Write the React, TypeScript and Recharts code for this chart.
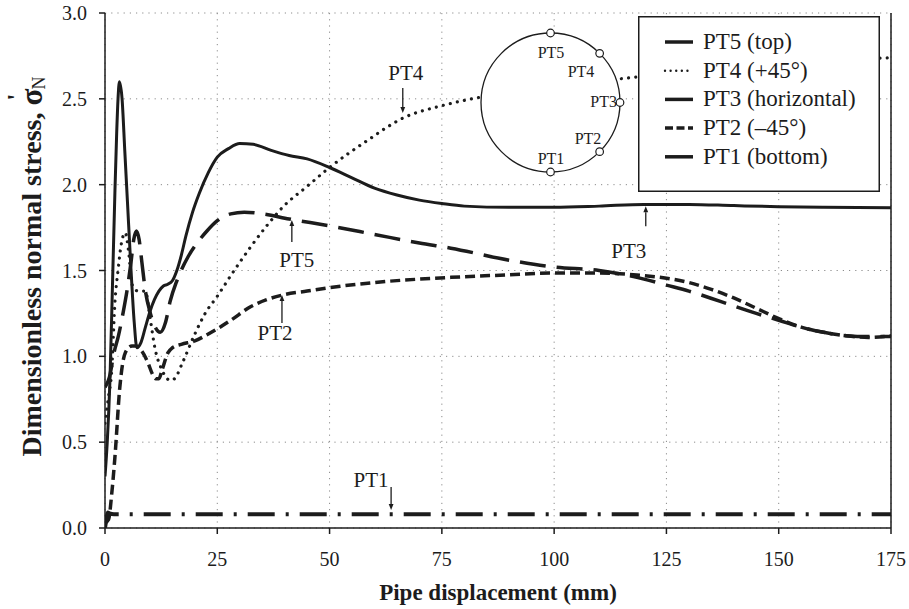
import React from "react";
import {
  LineChart,
  Line,
  XAxis,
  YAxis,
  CartesianGrid,
  ReferenceLine,
  ReferenceDot,
  Legend,
} from "recharts";

const FONT = '"Liberation Serif", "Times New Roman", Times, serif';
const INK = "#1c1c1c";

// axis ticks
const xTicks = [0, 25, 50, 75, 100, 125, 150, 175];
const yTicks = [0, 0.5, 1, 1.5, 2, 2.5, 3];

// PT5 (top)
const pt5X = [0, 1, 2, 3, 4, 5, 5.8, 6.4, 7, 7.6, 8.2, 9, 10, 11, 12.3, 13.5, 14.5, 16, 18.5, 20.5, 22.7, 25, 28, 31, 35, 41, 50, 60, 70, 77, 90, 100, 110, 120, 125, 130, 137, 145, 150, 155, 160, 165, 170, 175];
const pt5Y = [0.82, 0.88, 1.02, 1.12, 1.25, 1.4, 1.55, 1.68, 1.73, 1.68, 1.55, 1.38, 1.26, 1.18, 1.14, 1.2, 1.32, 1.44, 1.58, 1.66, 1.73, 1.79, 1.83, 1.84, 1.83, 1.8, 1.76, 1.71, 1.66, 1.63, 1.56, 1.52, 1.5, 1.45, 1.415, 1.38, 1.32, 1.25, 1.21, 1.17, 1.14, 1.12, 1.115, 1.115];

// PT4 (+45°)
const pt4X = [0, 0.7, 1.5, 2.2, 2.9, 3.6, 4.5, 5.3, 6, 7.4, 9, 10, 11.1, 12.7, 14.5, 15.5, 17.2, 20, 22.3, 25, 28, 32.5, 36, 39.6, 45, 50, 58, 66.5, 75, 83.6, 95, 105, 116, 130, 145, 160, 175];
const pt4Y = [0.61, 0.75, 0.92, 1.31, 1.5, 1.65, 1.72, 1.6, 1.42, 1.38, 1.38, 1.23, 1.05, 0.92, 0.86, 0.87, 0.96, 1.13, 1.25, 1.35, 1.47, 1.64, 1.76, 1.87, 1.99, 2.1, 2.25, 2.39, 2.46, 2.51, 2.56, 2.59, 2.62, 2.66, 2.7, 2.72, 2.74];

// PT3 (horizontal)
const pt3X = [0, 0.5, 1.1, 1.7, 2.2, 2.6, 2.9, 3.2, 3.8, 4.4, 5, 5.8, 6.5, 7.1, 8, 9, 10, 11, 12, 13, 14, 15, 16, 17, 18, 19.5, 21, 23, 25, 27.5, 30, 33, 37, 41, 45, 50, 55, 60, 65, 70, 75, 80, 90, 100, 110, 120, 130, 140, 150, 160, 175];
const pt3Y = [0.3, 0.5, 0.86, 1.45, 1.95, 2.3, 2.5, 2.6, 2.5, 2.2, 1.9, 1.5, 1.2, 1.05, 1.08, 1.17, 1.26, 1.33, 1.38, 1.41, 1.42, 1.44, 1.5, 1.59, 1.7, 1.84, 1.95, 2.07, 2.16, 2.21, 2.24, 2.235, 2.2, 2.17, 2.15, 2.1, 2.04, 1.98, 1.94, 1.91, 1.89, 1.875, 1.868, 1.868, 1.875, 1.885, 1.885, 1.878, 1.872, 1.868, 1.866];

// PT2 (-45°)
const pt2X = [0, 0.8, 1.5, 2.2, 3.3, 4.5, 6, 7, 8.2, 9.6, 10.5, 11.3, 12, 12.7, 14, 15, 17, 20, 23, 25, 28, 32.5, 36, 40, 45, 50, 60, 77, 90, 99, 110, 120, 125, 130, 135, 140, 145, 150, 155, 160, 165, 170, 175];
const pt2Y = [0.03, 0.05, 0.2, 0.41, 0.82, 1.02, 1.06, 1.06, 1.03, 0.96, 0.9, 0.87, 0.87, 0.92, 1.02, 1.05, 1.07, 1.09, 1.13, 1.16, 1.21, 1.29, 1.33, 1.36, 1.38, 1.4, 1.43, 1.46, 1.475, 1.485, 1.485, 1.47, 1.455, 1.43, 1.39, 1.34, 1.28, 1.22, 1.17, 1.14, 1.12, 1.11, 1.12];

// PT1 (bottom)
const pt1X = [0, 0.3, 0.6, 1, 2, 175];
const pt1Y = [0, 0.05, 0.09, 0.085, 0.08, 0.08];

// callout arrows: label and the point the arrow tip touches
const calloutLabels = ["PT4", "PT5", "PT2", "PT3", "PT1"];
const calloutX = [66.3, 41.6, 39.4, 120.4, 63.7];
const calloutY = [2.417, 1.794, 1.357, 1.875, 0.105];

const toPoints = (xs: number[], ys: number[]) => xs.map((x, i) => ({ x, y: ys[i] }));

const series = [
  { name: "PT5 (top)", data: toPoints(pt5X, pt5Y), width: 3.5, dash: "26 11", cap: "butt", legendDash: undefined },
  { name: "PT4 (+45°)", data: toPoints(pt4X, pt4Y), width: 3.2, dash: "0.01 7.2", cap: "round", legendDash: "0.01 5.6" },
  { name: "PT3 (horizontal)", data: toPoints(pt3X, pt3Y), width: 3, dash: undefined, cap: "butt", legendDash: undefined },
  { name: "PT2 (–45°)", data: toPoints(pt2X, pt2Y), width: 3.5, dash: "10 5", cap: "butt", legendDash: "8 3.5" },
  { name: "PT1 (bottom)", data: toPoints(pt1X, pt1Y), width: 4, dash: "27 11 3 11", cap: "butt", legendDash: undefined },
];

// arrow direction, arrow length and label offset (px) per callout
const calloutLayout: Record<string, { dir: "up" | "down"; len: number; tx: number; ty: number }> = {
  PT4: { dir: "down", len: 25, tx: 3, ty: -33 },
  PT5: { dir: "up", len: 22, tx: 5, ty: 47 },
  PT2: { dir: "up", len: 28, tx: -7, ty: 45 },
  PT3: { dir: "up", len: 20, tx: -17, ty: 52 },
  PT1: { dir: "down", len: 23, tx: -20, ty: -23 },
};

function calloutShape(label: string) {
  const { dir, len, tx, ty } = calloutLayout[label];
  return (props: any) => {
    const { cx, cy } = props;
    const s = dir === "down" ? -1 : 1;
    const head = 6;
    return (
      <g>
        <line x1={cx} y1={cy + s * len} x2={cx} y2={cy + s * head} stroke={INK} strokeWidth={1.3} />
        <path d={`M${cx},${cy} L${cx - 2.4},${cy + s * head} L${cx + 2.4},${cy + s * head} Z`} fill={INK} />
        <text x={cx + tx} y={cy + ty} textAnchor="middle" fontFamily={FONT} fontSize={21} fill={INK}>
          {label}
        </text>
      </g>
    );
  };
}

function XTitle({ viewBox }: any) {
  return (
    <text
      x={viewBox.x + viewBox.width / 2}
      y={viewBox.y + viewBox.height - 9}
      textAnchor="middle"
      fontFamily={FONT}
      fontWeight="bold"
      fontSize={23}
      fill={INK}
    >
      Pipe displacement (mm)
    </text>
  );
}

function YTitle({ viewBox }: any) {
  const cx = viewBox.x + 31;
  const cy = viewBox.y + viewBox.height / 2 - 4;
  return (
    <text
      x={cx}
      y={cy}
      transform={`rotate(-90, ${cx}, ${cy})`}
      textAnchor="middle"
      dominantBaseline="central"
      fontFamily={FONT}
      fontWeight="bold"
      fontSize={28}
      fill={INK}
    >
      Dimensionless normal stress,{" "}
      <tspan fontSize={31}>σ</tspan>
      <tspan dx={-12} dy={-15} fontSize={26}>'</tspan>
      <tspan dx={4} dy={23} fontSize={18} fontWeight="normal">N</tspan>
    </text>
  );
}

function LegendBox() {
  const w = 242;
  const h = 176;
  return (
    <svg width={w} height={h} style={{ display: "block" }}>
      <rect x={0.75} y={0.75} width={w - 1.5} height={h - 1.5} fill="#fff" stroke={INK} strokeWidth={1.5} />
      {series.map((s, i) => {
        const cy = 26 + i * 28.7;
        return (
          <g key={s.name}>
            <line
              x1={27}
              x2={55}
              y1={cy}
              y2={cy}
              stroke={INK}
              strokeWidth={s.cap === "round" ? 2.4 : 3.5}
              strokeDasharray={s.legendDash}
              strokeLinecap={s.cap as any}
            />
            <text x={65} y={cy + 7} fontFamily={FONT} fontSize={23} fill={INK}>
              {s.name}
            </text>
          </g>
        );
      })}
    </svg>
  );
}

// pipe cross-section with the five pressure cells
const insetLabels = ["PT5", "PT4", "PT3", "PT2", "PT1"];
const insetAngles = [90, 45, 0, -45, -90];

function PipeInset() {
  const cx = 550.5;
  const cy = 102.5;
  const r = 69.5;
  const labelPos = [
    { x: 551, y: 58, anchor: "middle" },
    { x: 581, y: 77, anchor: "middle" },
    { x: 617, y: 107, anchor: "end" },
    { x: 588, y: 144, anchor: "middle" },
    { x: 551, y: 164, anchor: "middle" },
  ];
  return (
    <svg width={909} height={609} style={{ position: "absolute", left: 0, top: 0, pointerEvents: "none" }}>
      <circle cx={cx} cy={cy} r={r} fill="#fff" stroke={INK} strokeWidth={1.3} />
      {insetAngles.map((a, i) => {
        const rad = (a * Math.PI) / 180;
        return (
          <g key={insetLabels[i]}>
            <circle cx={cx + r * Math.cos(rad)} cy={cy - r * Math.sin(rad)} r={3.8} fill="#fff" stroke={INK} strokeWidth={1.2} />
            <text
              x={labelPos[i].x}
              y={labelPos[i].y}
              textAnchor={labelPos[i].anchor as any}
              fontFamily={FONT}
              fontSize={16}
              fill={INK}
            >
              {insetLabels[i]}
            </text>
          </g>
        );
      })}
    </svg>
  );
}

export default function App() {
  return (
    <div style={{ position: "absolute", left: 0, top: 0, width: 909, height: 609, background: "#fff" }}>
      <LineChart width={909} height={609} margin={{ top: 13, right: 18, bottom: 0, left: 0 }}>
        <CartesianGrid stroke="#8c8c8c" strokeDasharray="1.2 5" />
        <XAxis
          type="number"
          dataKey="x"
          domain={[0, 175]}
          ticks={xTicks}
          allowDataOverflow
          height={81}
          tickSize={6}
          tickMargin={18}
          axisLine={{ stroke: INK, strokeWidth: 1.5 }}
          tickLine={{ stroke: INK, strokeWidth: 1.5 }}
          tick={{ fontFamily: FONT, fontSize: 20, fill: INK }}
          label={{ content: (p: any) => <XTitle viewBox={p.viewBox} /> }}
        />
        <YAxis
          type="number"
          domain={[0, 3]}
          ticks={yTicks}
          allowDataOverflow
          width={105}
          tickSize={6}
          tickMargin={12}
          tickFormatter={(v: number) => v.toFixed(1)}
          axisLine={{ stroke: INK, strokeWidth: 1.5 }}
          tickLine={{ stroke: INK, strokeWidth: 1.5 }}
          tick={{ fontFamily: FONT, fontSize: 20, fill: INK }}
          label={{ content: (p: any) => <YTitle viewBox={p.viewBox} /> }}
        />
        <ReferenceLine x={175} stroke={INK} strokeWidth={1.5} />
        {series.map((s) => (
          <Line
            key={s.name}
            name={s.name}
            data={s.data}
            dataKey="y"
            type="monotone"
            stroke={INK}
            strokeWidth={s.width}
            strokeDasharray={s.dash}
            strokeLinecap={s.cap as any}
            dot={false}
            activeDot={false}
            isAnimationActive={false}
          />
        ))}
        {calloutLabels.map((label, i) => (
          <ReferenceDot
            key={label}
            x={calloutX[i]}
            y={calloutY[i]}
            r={0}
            ifOverflow="visible"
            shape={calloutShape(label)}
          />
        ))}
        <Legend
          layout="vertical"
          align="center"
          verticalAlign="middle"
          wrapperStyle={{ left: 638, top: 16, width: 242, height: 176 }}
          content={() => <LegendBox />}
        />
      </LineChart>
      <PipeInset />
    </div>
  );
}
